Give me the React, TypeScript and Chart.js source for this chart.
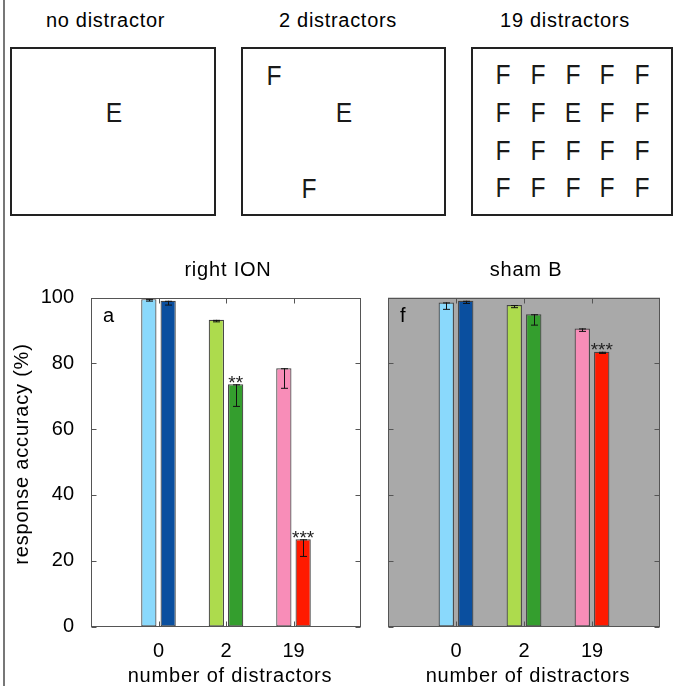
import React, { useEffect, useRef } from 'react';
import { Chart, registerables } from 'chart.js';

Chart.register(...registerables);

const FONT = '"Liberation Sans", Arial, Helvetica, sans-serif';

const categories = ['0', '2', '19'];
const yTickValues = [0, 20, 40, 60, 80, 100];
const lightColors = ['#8ad9fc', '#addb4d', '#f88db8'];
const darkColors = ['#0a4f9f', '#349e2e', '#ff1a00'];

const ionBefore = [99.5, 93.2, 78.5];
const ionBeforeErr = [0.6, 0.6, 6.1];
const ionAfter = [99.0, 73.6, 26.5];
const ionAfterErr = [1.3, 6.7, 5.2];
const ionStars = ['', '**', '***'];

const shamBefore = [98.5, 97.7, 90.6];
const shamBeforeErr = [2.1, 0.8, 0.9];
const shamAfter = [99.0, 94.9, 83.5];
const shamAfterErr = [0.8, 3.3, 0.5];
const shamStars = ['', '', '***'];

const stimulusTitles = ['no distractor', '2 distractors', '19 distractors'];

type Panel = {
  title: string;
  letter: string;
  before: number[];
  beforeErr: number[];
  after: number[];
  afterErr: number[];
  stars: string[];
  bg: string | null;
  yLabels: boolean;
  padLeft: number;
  padRight: number;
  yWidth: number;
};

function pad(arr: any[]) {
  return [null, ...arr, null];
}

function makeDecor(p: Panel) {
  return {
    id: 'decor',
    beforeDraw(chart: any) {
      const { ctx, chartArea: a } = chart;
      if (p.bg) {
        ctx.save();
        ctx.fillStyle = p.bg;
        ctx.fillRect(a.left, a.top, a.right - a.left, a.bottom - a.top);
        ctx.restore();
      }
    },
    afterDatasetsDraw(chart: any) {
      const { ctx } = chart;
      const y = chart.scales.y;
      const errs = [p.beforeErr, p.afterErr];
      ctx.save();
      ctx.strokeStyle = '#111';
      ctx.lineWidth = 1;
      [0, 1].forEach((d) => {
        const meta = chart.getDatasetMeta(d);
        const vals = chart.data.datasets[d].data;
        meta.data.forEach((bar: any, i: number) => {
          const v = vals[i];
          if (v == null) return;
          const e = errs[d][i - 1];
          const top = y.getPixelForValue(v);
          const bot = y.getPixelForValue(v - e);
          const x = Math.round(bar.x) + 0.5;
          ctx.beginPath();
          ctx.moveTo(x, top);
          ctx.lineTo(x, bot);
          ctx.moveTo(x - 3.5, top + 0.5);
          ctx.lineTo(x + 3.5, top + 0.5);
          ctx.moveTo(x - 3.5, bot);
          ctx.lineTo(x + 3.5, bot);
          ctx.stroke();
        });
      });
      const meta1 = chart.getDatasetMeta(1);
      ctx.fillStyle = '#222';
      ctx.font = '19px ' + FONT;
      ctx.textAlign = 'center';
      ctx.textBaseline = 'alphabetic';
      meta1.data.forEach((bar: any, i: number) => {
        const s = p.stars[i - 1];
        if (!s) return;
        ctx.fillText(s, bar.x, bar.y + 4.5);
      });
      ctx.restore();
    },
    afterDraw(chart: any) {
      const { ctx, chartArea: a } = chart;
      const x = chart.scales.x;
      const y = chart.scales.y;
      ctx.save();
      ctx.strokeStyle = '#555';
      ctx.lineWidth = 1;
      const L = Math.round(a.left) + 0.5;
      const R = Math.round(a.right) - 0.5;
      const T = Math.round(a.top) + 0.5;
      const B = Math.round(a.bottom) - 0.5;
      ctx.strokeRect(L, T, R - L, B - T);
      ctx.beginPath();
      yTickValues.forEach((v) => {
        const py = Math.round(y.getPixelForValue(v)) + 0.5;
        ctx.moveTo(L, py);
        ctx.lineTo(L + 5, py);
        ctx.moveTo(R, py);
        ctx.lineTo(R - 5, py);
      });
      categories.forEach((_, i) => {
        const px = Math.round(x.getPixelForValue(i + 1)) + 0.5;
        ctx.moveTo(px, T);
        ctx.lineTo(px, T + 5);
        ctx.moveTo(px, B);
        ctx.lineTo(px, B - 5);
      });
      ctx.stroke();

      ctx.fillStyle = '#000';
      (ctx as any).letterSpacing = '0.8px';
      ctx.font = '20px ' + FONT;
      ctx.textAlign = 'center';
      ctx.textBaseline = 'alphabetic';
      const cx = (a.left + a.right) / 2;
      ctx.fillText(p.title, cx + 2, a.top - 21.5);
      ctx.fillText('number of distractors', cx + 4, a.bottom + 55);
      if (p.yLabels) {
        ctx.save();
        ctx.translate(27.5, (a.top + a.bottom) / 2 - 8);
        ctx.rotate(-Math.PI / 2);
        ctx.fillText('response accuracy (%)', 0, 0);
        ctx.restore();
      }
      (ctx as any).letterSpacing = '0px';
      ctx.textAlign = 'left';
      ctx.fillText(p.letter, a.left + 12, a.top + 24);
      ctx.restore();
    },
  };
}

function BarPanel({ p, left, top, width, height }: { p: Panel; left: number; top: number; width: number; height: number }) {
  const ref = useRef<HTMLCanvasElement | null>(null);
  useEffect(() => {
    if (!ref.current) return;
    const labels = ['', ...categories, ''];
    const chart = new Chart(ref.current, {
      type: 'bar',
      data: {
        labels,
        datasets: [
          {
            label: 'before',
            data: pad(p.before),
            backgroundColor: pad(lightColors),
            borderColor: '#444',
            borderWidth: 1.2,
            borderSkipped: false,
            categoryPercentage: 0.572,
            barPercentage: 0.79,
          },
          {
            label: 'after',
            data: pad(p.after),
            backgroundColor: pad(darkColors),
            borderColor: '#444',
            borderWidth: 1.2,
            borderSkipped: false,
            categoryPercentage: 0.572,
            barPercentage: 0.79,
          },
        ],
      } as any,
      options: {
        animation: false,
        responsive: true,
        maintainAspectRatio: false,
        layout: { padding: { left: p.padLeft, right: p.padRight, top: 47.5, bottom: 0 } },
        plugins: { legend: { display: false }, tooltip: { enabled: false }, title: { display: false } },
        scales: {
          x: {
            type: 'category',
            offset: false,
            grid: { display: false },
            border: { display: false },
            ticks: {
              autoSkip: false,
              maxRotation: 0,
              padding: 5,
              color: '#000',
              font: { family: FONT, size: 20 },
            },
            afterFit: (s: any) => {
              s.height = 59.5;
            },
          },
          y: {
            min: 0,
            max: 100,
            grid: { display: false },
            border: { display: false },
            ticks: {
              display: p.yLabels,
              stepSize: 20,
              padding: 9,
              color: '#000',
              font: { family: FONT, size: 20 },
            },
            afterFit: (s: any) => {
              s.width = p.yWidth;
            },
          },
        },
      } as any,
      plugins: [makeDecor(p)],
    });
    return () => chart.destroy();
  }, []);
  return (
    <div style={{ position: 'absolute', left, top, width, height }}>
      <canvas ref={ref} />
    </div>
  );
}

const ionPanel: Panel = {
  title: 'right ION',
  letter: 'a',
  before: ionBefore,
  beforeErr: ionBeforeErr,
  after: ionAfter,
  afterErr: ionAfterErr,
  stars: ionStars,
  bg: null,
  yLabels: true,
  padLeft: 0,
  padRight: 9,
  yWidth: 91,
};

const shamPanel: Panel = {
  title: 'sham B',
  letter: 'f',
  before: shamBefore,
  beforeErr: shamBeforeErr,
  after: shamAfter,
  afterErr: shamAfterErr,
  stars: shamStars,
  bg: '#a9a9a9',
  yLabels: false,
  padLeft: 0,
  padRight: 18,
  yWidth: 18,
};

type Letter = { ch: string; x: number; y: number };
const box1Letters: Letter[] = [{ ch: 'E', x: 113.5, y: 113 }];
const box2Letters: Letter[] = [
  { ch: 'F', x: 274, y: 75.5 },
  { ch: 'E', x: 344, y: 113 },
  { ch: 'F', x: 309, y: 188.5 },
];
const gridCols = [503, 538, 573, 607, 642];
const gridRows = [75, 113, 151, 188];
const box3Letters: Letter[] = [];
gridRows.forEach((yy, r) =>
  gridCols.forEach((xx, c) => box3Letters.push({ ch: r === 1 && c === 2 ? 'E' : 'F', x: xx, y: yy }))
);

const boxes = [
  { left: 10, width: 206, titleX: 105.5, letters: box1Letters },
  { left: 241, width: 205, titleX: 338, letters: box2Letters },
  { left: 471, width: 202, titleX: 565, letters: box3Letters },
];

export default function App() {
  return (
    <div
      style={{
        position: 'absolute',
        left: 0,
        top: 0,
        width: 678,
        height: 686,
        background: '#fff',
        fontFamily: FONT,
        overflow: 'hidden',
      }}
    >
      <div style={{ position: 'absolute', left: 3, top: 0, width: 2, height: 686, background: '#777' }} />
      {boxes.map((b, i) => (
        <React.Fragment key={i}>
          <div
            style={{
              position: 'absolute',
              left: b.titleX - 100,
              width: 200,
              top: 10,
              lineHeight: '20px',
              fontSize: 20,
              letterSpacing: '0.7px',
              textAlign: 'center',
              color: '#000',
            }}
          >
            {stimulusTitles[i]}
          </div>
          <div
            style={{
              position: 'absolute',
              left: b.left,
              top: 47,
              width: b.width,
              height: 169,
              boxSizing: 'border-box',
              border: '2px solid #222',
            }}
          />
          {b.letters.map((l, j) => (
            <div
              key={j}
              style={{
                position: 'absolute',
                left: l.x,
                top: l.y,
                transform: 'translate(-50%, -50%) scaleX(0.88)',
                fontSize: 28,
                lineHeight: '28px',
                color: '#1a1a1a',
              }}
            >
              {l.ch}
            </div>
          ))}
        </React.Fragment>
      ))}
      <BarPanel p={ionPanel} left={0} top={250} width={370} height={436} />
      <BarPanel p={shamPanel} left={370} top={250} width={308} height={436} />
    </div>
  );
}
